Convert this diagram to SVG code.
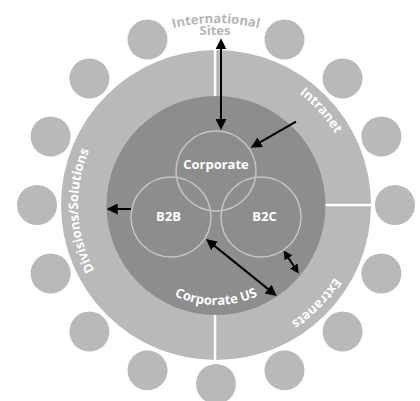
<svg xmlns="http://www.w3.org/2000/svg" width="420" height="401" viewBox="0 0 420 401">
<style>
.pc{fill:#b9b9b9}
.ring{fill:#b9b9b9}
.core{fill:#8d8d8d}
.sub{fill:none;stroke:#c4c4c4;stroke-width:1.5}
.lbl{font-family:"Open Sans","Liberation Sans",sans-serif;font-weight:bold;font-size:13px;fill:#fff}
.ext{fill:#b5b5b5}
.divl{stroke:#fff;stroke-width:2.5}
.arr{stroke:#000;stroke-width:2;fill:none}
</style>
<defs>
<marker id="ah" viewBox="0 0 10 10" refX="7.3" refY="5" markerWidth="11" markerHeight="11" markerUnits="userSpaceOnUse" orient="auto-start-reverse">
<path d="M0,0 L10,5 L0,10 z" fill="#000"/>
</marker>
<marker id="ahs" viewBox="0 0 10 10" refX="7.3" refY="5" markerWidth="9" markerHeight="9" markerUnits="userSpaceOnUse" orient="auto-start-reverse">
<path d="M0,0 L10,5 L0,10 z" fill="#000"/>
</marker>
<path id="pIntl" d="M125,47.4 A182,182 0 0 1 307,47.4"/>
<path id="pIntra" d="M235.35,67.35 A139,139 0 0 1 354.92,200.15"/>
<path id="pExtra" d="M354.59,215.66 A139,139 0 0 1 229.56,343.34"/>
<path id="pDiv" d="M152.28,327.41 A138,138 0 0 1 141.85,88.61"/>
<path id="pCUS" d="M129.4,255 A100,100 0 0 0 302.6,255"/>
</defs>

<g id="peripherals">
<circle class="pc" cx="284.5" cy="39.6" r="20"/>
<circle class="pc" cx="342.57" cy="78.43" r="20"/>
<circle class="pc" cx="381.37" cy="136.5" r="20"/>
<circle class="pc" cx="395" cy="205" r="20"/>
<circle class="pc" cx="381.37" cy="273.5" r="20"/>
<circle class="pc" cx="342.57" cy="331.57" r="20"/>
<circle class="pc" cx="284.5" cy="370.37" r="20"/>
<circle class="pc" cx="216" cy="384" r="20"/>
<circle class="pc" cx="147.5" cy="370.37" r="20"/>
<circle class="pc" cx="89.43" cy="331.57" r="20"/>
<circle class="pc" cx="50.63" cy="273.5" r="20"/>
<circle class="pc" cx="37" cy="205" r="20"/>
<circle class="pc" cx="50.63" cy="136.5" r="20"/>
<circle class="pc" cx="89.43" cy="78.43" r="20"/>
<circle class="pc" cx="147.5" cy="39.6" r="20"/>
</g>

<g id="international-sites">
<text class="lbl ext"><textPath href="#pIntl" startOffset="50%" text-anchor="middle">International</textPath></text>
<text class="lbl ext" x="215" y="35" text-anchor="middle">Sites</text>
</g>

<g id="outer-ring">
<circle class="ring" cx="216" cy="205" r="155"/>
<line class="divl" x1="215" y1="48" x2="215" y2="100"/>
<line class="divl" x1="315" y1="205" x2="373" y2="205"/>
<line class="divl" x1="215" y1="310" x2="215" y2="362"/>
</g>

<g id="intranet">
<text class="lbl"><textPath href="#pIntra" startOffset="50%" text-anchor="middle">Intranet</textPath></text>
</g>
<g id="extranets">
<text class="lbl"><textPath href="#pExtra" startOffset="50%" text-anchor="middle">Extranets</textPath></text>
</g>
<g id="divisions-solutions">
<text class="lbl"><textPath href="#pDiv" startOffset="50%" text-anchor="middle">Divisions/Solutions</textPath></text>
</g>

<g id="corporate-us">
<circle class="core" cx="216" cy="205.5" r="109.5"/>
<text class="lbl"><textPath href="#pCUS" startOffset="50%" text-anchor="middle">Corporate US</textPath></text>
</g>

<g id="corporate">
<circle class="sub" cx="216" cy="171" r="40"/>
<text class="lbl" x="216" y="168.5" text-anchor="middle">Corporate</text>
</g>
<g id="b2b">
<circle class="sub" cx="171" cy="217" r="40"/>
<text class="lbl" x="168.5" y="221" text-anchor="middle">B2B</text>
</g>
<g id="b2c">
<circle class="sub" cx="261" cy="217" r="40"/>
<text class="lbl" x="264.5" y="221" text-anchor="middle">B2C</text>
</g>

<g id="connectors">
<line class="arr" x1="221" y1="41.3" x2="221" y2="127" marker-start="url(#ah)" marker-end="url(#ah)"/>
<line class="arr" x1="296" y1="121.7" x2="253.3" y2="146.2" marker-end="url(#ah)"/>
<line class="arr" x1="131" y1="209" x2="109.7" y2="209" marker-end="url(#ah)"/>
<line class="arr" x1="208.3" y1="240.9" x2="274.4" y2="294.1" marker-start="url(#ah)" marker-end="url(#ah)"/>
<line class="arr" x1="284.9" y1="252.5" x2="297.4" y2="271.5" marker-start="url(#ahs)" marker-end="url(#ahs)"/>
</g>
</svg>
